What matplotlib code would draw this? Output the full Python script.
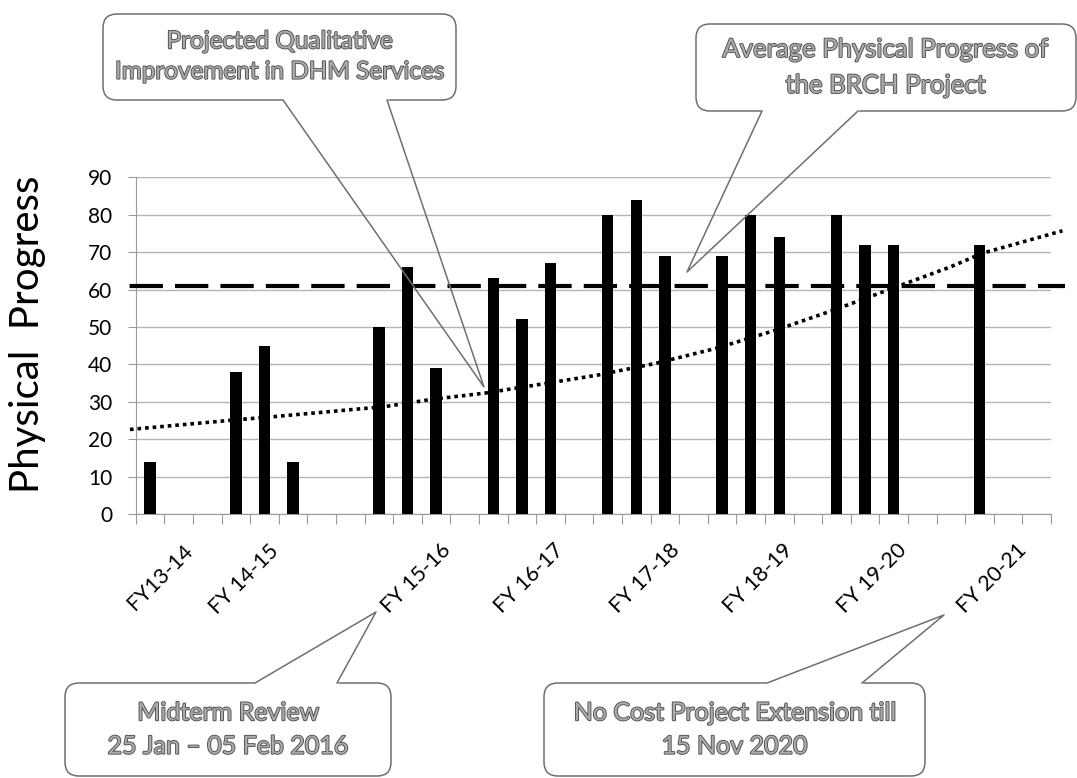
import numpy as np
import matplotlib
matplotlib.use("Agg")
import matplotlib.pyplot as plt
import matplotlib.patheffects as pe
import matplotlib.transforms as mtransforms
from matplotlib.patches import FancyBboxPatch
from matplotlib.lines import Line2D

plt.rcParams["font.family"] = ["Lato", "DejaVu Sans"]

# Physical progress per review slot (32 slots on the category axis)
slot_index = [0, 3, 4, 5, 8, 9, 10, 12, 13, 14, 16, 17, 18, 20, 21, 22, 24, 25, 26, 29]
progress = [14, 38, 45, 14, 50, 66, 39, 63, 52, 67, 80, 84, 69, 69, 80, 74, 80, 72, 72, 72]
n_slots = 32

# Fiscal year labels and the slot they end at
fy_labels = ["FY13-14", "FY 14-15", "FY 15-16", "FY 16-17",
             "FY 17-18", "FY 18-19", "FY 19-20", "FY 20-21"]
fy_slots = [1.15, 4.15, 10.15, 14.1, 18.15, 22.1, 26.1, 30.3]

# Average progress line
avg_progress = 61

# Projected trend
trend_x = [-0.7, 2.9, 4.3, 8.2, 9.9, 11.7, 14.0, 15.7, 17.7, 19.8, 21.9, 23.9, 25.6, 28.0, 29.1, 31.9]
trend_y = [22.6, 25.1, 26.0, 28.7, 30.7, 32.3, 35.1, 37.2, 40.3, 44.3, 49.2, 54.5, 59.3, 66.1, 69.7, 75.7]

W, H = 1077, 778
fig = plt.figure(figsize=(W / 100, H / 100), dpi=100)
ax = fig.add_axes([135.7 / W, 1 - 514 / H, (1051 - 135.7) / W, (514 - 177.3) / H])

ax.bar(slot_index, progress, width=0.4, color="black", zorder=3)
# average line, drawn right to left so the dash pattern ends cleanly at the left
ax.plot([n_slots, -1.1], [avg_progress, avg_progress], color="black", lw=3,
        linestyle=(1.5, (8, 2.9)), dash_capstyle="butt", clip_on=False, zorder=4)
ax.plot(trend_x, trend_y, color="black", lw=2.6, dashes=(1, 1.1), clip_on=False, zorder=4)

ax.set_xlim(-0.5, n_slots - 0.5)
ax.set_ylim(0, 90)
ax.set_yticks(range(0, 91, 10))
ax.yaxis.grid(True, color="#b5b5b5", lw=1)
ax.set_axisbelow(True)
for s in ["top", "right"]:
    ax.spines[s].set_visible(False)
for s in ["left", "bottom"]:
    ax.spines[s].set_color("#9a9a9a")
ax.tick_params(axis="y", length=6, color="#9a9a9a", labelsize=15, pad=11)

# boundary tick marks, labels on minor ticks
ax.set_xticks(np.arange(n_slots + 1) - 0.5)
ax.set_xticklabels([])
ax.tick_params(axis="x", which="major", length=7, color="#9a9a9a")
ax.set_xticks(fy_slots, minor=True)
ax.set_xticklabels(fy_labels, minor=True, rotation=45, ha="right", va="top",
                   rotation_mode="anchor", fontsize=15.5)
ax.tick_params(axis="x", which="minor", length=0, pad=19)

fig.text(28 / W, 1 - 334 / H, "Physical  Progress", rotation=90, fontsize=29,
         ha="center", va="center")

# pixel transform for callouts (origin top-left)
px = mtransforms.Affine2D().scale(1 / W, -1 / H).translate(0, 1) + fig.transFigure
outline = [pe.withStroke(linewidth=1.3, foreground="#505050")]


def callout(box, base, tip, text, size):
    x0, y0, x1, y1 = box
    fig.patches.append(FancyBboxPatch((x0, y0), x1 - x0, y1 - y0,
                                      boxstyle="round,pad=0,rounding_size=14",
                                      transform=px, fc="white", ec="#6f6f6f", lw=1.1, zorder=5))
    yb = base[0][1]
    # open the box edge where the pointer joins
    fig.lines.append(Line2D([base[0][0] + 1, base[1][0] - 1], [yb, yb], transform=px,
                            color="white", lw=2.5, zorder=6))
    fig.lines.append(Line2D([base[0][0], tip[0], base[1][0]], [yb, tip[1], yb],
                            transform=px, color="#6f6f6f", lw=1.1, zorder=7))
    fig.text((x0 + x1) / 2, (y0 + y1) / 2, text, transform=px, ha="center", va="center",
             fontsize=size, color="#ababab", linespacing=1.55, path_effects=outline, zorder=8)


callout((103, 14, 456, 100), [(283, 100), (387, 100)], (484, 387),
        "Projected Qualitative\nImprovement in DHM Services", 17.5)
callout((696, 24, 1076, 111), [(762, 111), (858, 111)], (687, 272),
        "Average Physical Progress of\nthe BRCH Project", 18.5)
callout((65, 683, 391, 776), [(255, 683), (337, 683)], (376, 612),
        "Midterm Review\n25 Jan \u2013 05 Feb 2016", 18)
callout((544, 683, 925, 776), [(767, 683), (862, 683)], (944, 615),
        "No Cost Project Extension till\n15 Nov 2020", 18)

fig.savefig("out.png", dpi=100)
